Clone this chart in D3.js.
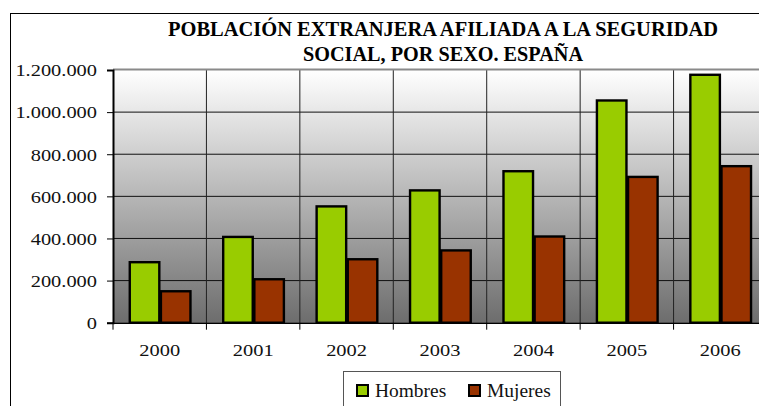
<!DOCTYPE html>
<html>
<head>
<meta charset="utf-8">
<script src="https://cdn.jsdelivr.net/npm/d3@7/dist/d3.min.js"></script>
<style>
  html, body { margin: 0; padding: 0; background: #ffffff; }
  svg { display: block; }
</style>
</head>
<body>
<svg id="chart" width="759" height="406"></svg>
<script>
// Foreign workers registered with Social Security, by sex (Spain)
const years = ["2000", "2001", "2002", "2003", "2004", "2005", "2006"];
const seriesNames = ["Hombres", "Mujeres"];
const hombres = [293000, 413000, 558000, 634000, 725000, 1061000, 1183000];
const mujeres = [155000, 212000, 307000, 349000, 415000, 698000, 749000];
const yTicks = [0, 200000, 400000, 600000, 800000, 1000000, 1200000];
const titleLines = ["POBLACIÓN EXTRANJERA AFILIADA A LA SEGURIDAD", "SOCIAL, POR SEXO. ESPAÑA"];
const seriesColors = ["#99cc00", "#993300"];

const FONT = "Liberation Serif";
const svg = d3.select("#chart");

const plot = { left: 113, top: 70, right: 767, bottom: 322.7 };

// Widen glyphs horizontally by a factor
function fitWidth(sel, factor) {
  sel.each(function () {
    const w = this.getComputedTextLength();
    d3.select(this)
      .attr("textLength", (w * factor).toFixed(1))
      .attr("lengthAdjust", "spacingAndGlyphs");
  });
}

// Chart frame
svg.append("rect")
  .attr("x", 10.5).attr("y", 13.5)
  .attr("width", 800).attr("height", 420)
  .attr("fill", "#fff").attr("stroke", "#000").attr("stroke-width", 1);

// Scales
const x0 = d3.scaleBand().domain(years).range([plot.left, plot.right]).padding(0);
const x1 = d3.scaleBand().domain(seriesNames).range([0, x0.bandwidth()])
  .paddingInner(0).paddingOuter(0.5);
const y = d3.scaleLinear().domain([0, 1200000]).range([plot.bottom, plot.top]);

const esLocale = d3.formatLocale({ decimal: ",", thousands: ".", grouping: [3], currency: ["", " €"] });
const fmt = esLocale.format(",");

// Plot background gradient
const defs = svg.append("defs");
const grad = defs.append("linearGradient")
  .attr("id", "plotBg").attr("x1", 0).attr("y1", 0).attr("x2", 0).attr("y2", 1);
grad.append("stop").attr("offset", "0%").attr("stop-color", "#ffffff");
grad.append("stop").attr("offset", "100%").attr("stop-color", "#6d6d6d");

svg.append("rect")
  .attr("x", plot.left).attr("y", plot.top)
  .attr("width", plot.right - plot.left).attr("height", plot.bottom - plot.top)
  .attr("fill", "url(#plotBg)");

// Horizontal gridlines
svg.append("g")
  .selectAll("line")
  .data(yTicks.filter(d => d > 0 && d < 1200000))
  .join("line")
  .attr("x1", plot.left).attr("x2", plot.right)
  .attr("y1", d => y(d)).attr("y2", d => y(d))
  .attr("stroke", "#111").attr("stroke-width", 1);

// Vertical gridlines between categories
svg.append("g")
  .selectAll("line")
  .data(years.slice(1))
  .join("line")
  .attr("x1", d => x0(d)).attr("x2", d => x0(d))
  .attr("y1", plot.top).attr("y2", plot.bottom)
  .attr("stroke", "#222").attr("stroke-width", 1);

// Plot top edge
svg.append("line")
  .attr("x1", plot.left).attr("x2", plot.right)
  .attr("y1", plot.top - 0.5).attr("y2", plot.top - 0.5)
  .attr("stroke", "#8a8a8a").attr("stroke-width", 2);

// Bars
const rows = years.map((yr, i) => ({ year: yr, values: [hombres[i], mujeres[i]] }));
const groups = svg.append("g")
  .selectAll("g")
  .data(rows)
  .join("g")
  .attr("transform", d => `translate(${x0(d.year)},0)`);

groups.selectAll("rect")
  .data(d => d.values.map((v, k) => ({ key: seriesNames[k], value: v, k })))
  .join("rect")
  .attr("x", d => x1(d.key) + 1.2)
  .attr("width", x1.bandwidth() - 1.6)
  .attr("y", d => y(d.value) + 1.2)
  .attr("height", d => y(0) - y(d.value) - 1.2)
  .attr("fill", d => seriesColors[d.k])
  .attr("stroke", "#000")
  .attr("stroke-width", 2.4);

// Y axis
const yAxis = svg.append("g")
  .attr("transform", `translate(${plot.left},0)`)
  .call(d3.axisLeft(y).tickValues(yTicks).tickFormat(fmt).tickSize(6).tickPadding(10));
yAxis.attr("font-family", FONT).attr("font-size", 17);
yAxis.select(".domain").attr("stroke", "#000").attr("stroke-width", 2);
yAxis.selectAll(".tick line").attr("stroke", "#000").attr("stroke-width", 1);
yAxis.selectAll(".tick text")
  .attr("font-family", FONT)
  .attr("font-size", 17)
  .attr("fill", "#111")
  .attr("dy", "0.34em");
fitWidth(yAxis.selectAll(".tick text"), 1.2);

// X axis
const xAxis = svg.append("g")
  .attr("transform", `translate(0,${plot.bottom})`)
  .call(d3.axisBottom(x0).tickSize(0).tickPadding(21));
xAxis.attr("font-family", FONT).attr("font-size", 17.5);
xAxis.select(".domain").attr("stroke", "#000").attr("stroke-width", 1.5);
xAxis.selectAll(".tick text")
  .attr("font-family", FONT)
  .attr("font-size", 17.5)
  .attr("fill", "#111");
fitWidth(xAxis.selectAll(".tick text"), 1.17);

// Category boundary ticks below the axis
svg.append("g")
  .selectAll("line")
  .data(years)
  .join("line")
  .attr("x1", d => x0(d)).attr("x2", d => x0(d))
  .attr("y1", plot.bottom).attr("y2", plot.bottom + 7)
  .attr("stroke", "#000").attr("stroke-width", 1);

// Title, two centred lines
const titleWidths = [550, 280];
svg.append("g")
  .selectAll("text")
  .data(titleLines)
  .join("text")
  .attr("x", 443)
  .attr("y", (d, i) => 35.5 + i * 25)
  .attr("text-anchor", "middle")
  .attr("font-family", FONT)
  .attr("font-weight", "bold")
  .attr("font-size", 20)
  .attr("fill", "#000")
  .text(d => d)
  .each(function (d, i) {
    d3.select(this)
      .attr("textLength", titleWidths[i])
      .attr("lengthAdjust", "spacingAndGlyphs");
  });

// Legend
const legend = svg.append("g");
legend.append("rect")
  .attr("x", 343.5).attr("y", 371.5)
  .attr("width", 217).attr("height", 60)
  .attr("fill", "#fff").attr("stroke", "#555").attr("stroke-width", 1);

const legendX = [356, 468];
const items = legend.selectAll("g.item")
  .data(seriesNames)
  .join("g")
  .attr("class", "item")
  .attr("transform", (d, i) => `translate(${legendX[i]},384)`);
items.append("rect")
  .attr("x", 1).attr("y", 1)
  .attr("width", 11).attr("height", 11)
  .attr("fill", (d, i) => seriesColors[i])
  .attr("stroke", "#000").attr("stroke-width", 2);
const legendText = items.append("text")
  .attr("x", 19).attr("y", 12.5)
  .attr("font-family", FONT)
  .attr("font-size", 18.5)
  .attr("fill", "#111")
  .text(d => d);
fitWidth(legendText, 1.05);
</script>
</body>
</html>
